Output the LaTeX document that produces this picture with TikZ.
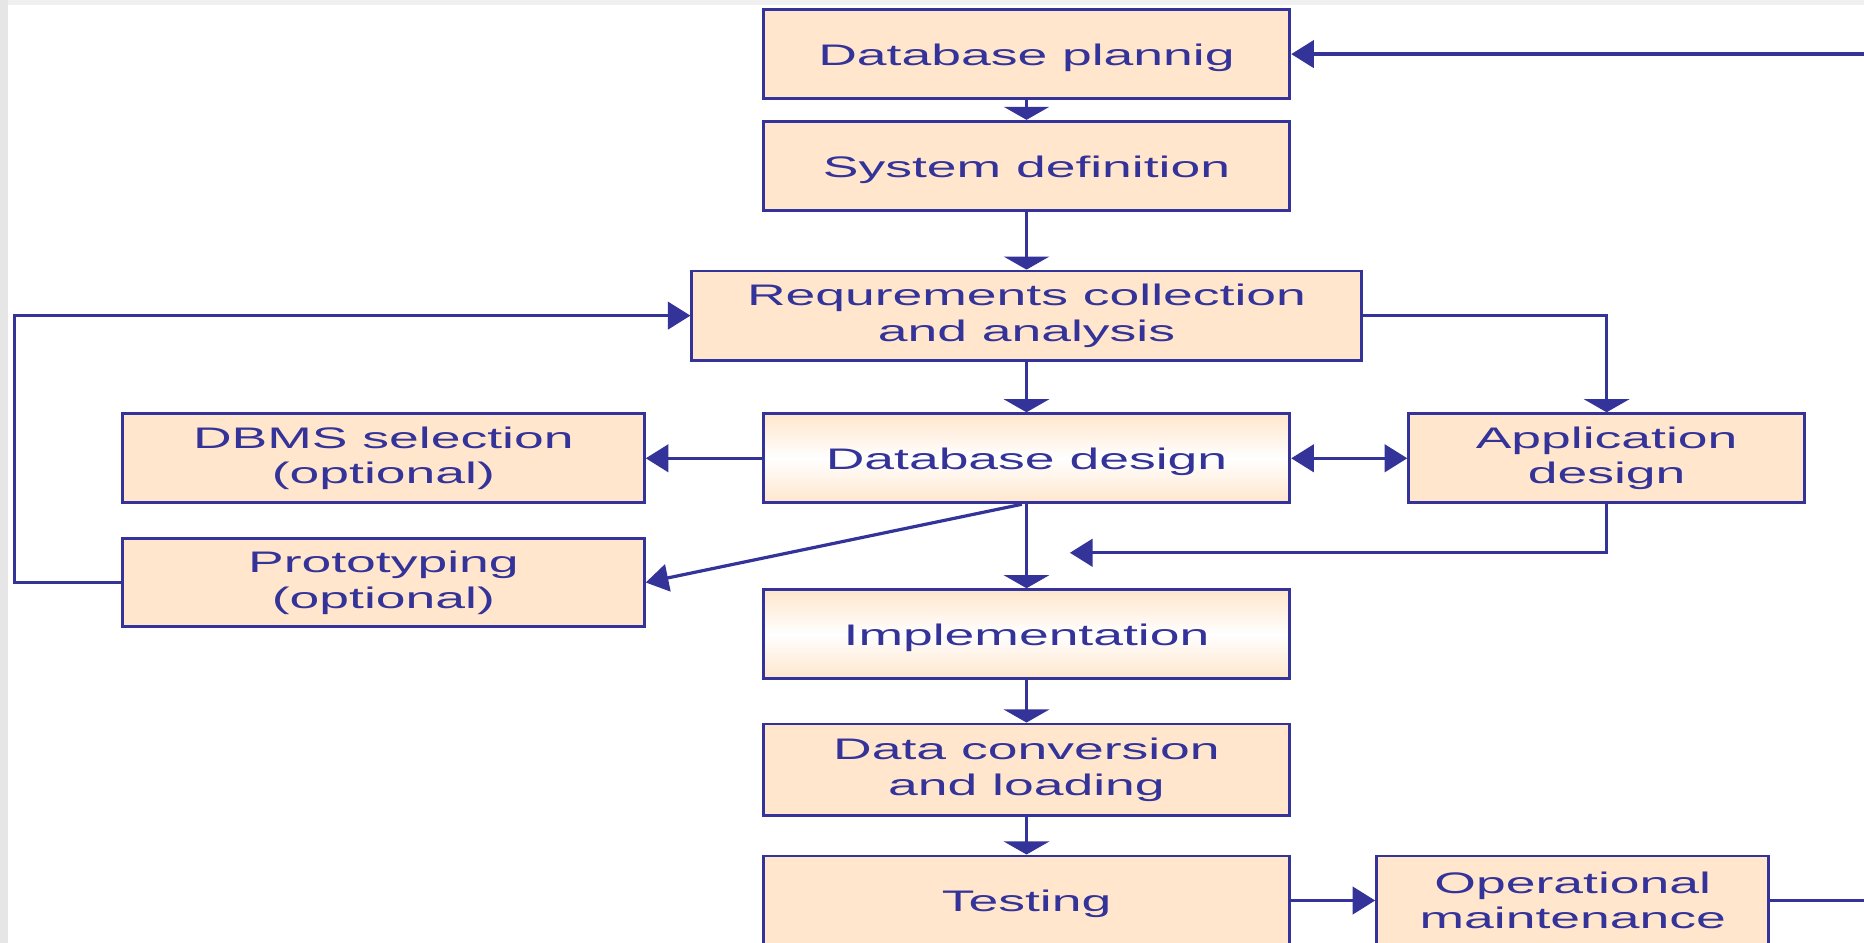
\documentclass[tikz,border=0pt]{standalone}
\usepackage{fontspec}
\setmainfont{Liberation Sans}
\newfontfamily\dfont[FakeStretch=1.8]{Liberation Sans}
\usetikzlibrary{arrows.meta}
\definecolor{lineblue}{RGB}{51,51,153}
\definecolor{peach}{RGB}{255,230,204}
\definecolor{edgegray}{RGB}{230,230,230}
\begin{document}
\begin{tikzpicture}[x=0.5pt,y=-0.5pt,
  box/.style={draw=lineblue, line width=1.2pt, fill=peach, text=lineblue,
    font=\dfont\fontsize{12.5pt}{15pt}\selectfont, align=center,
    inner sep=0pt, minimum width=221.5pt, minimum height=37.5pt,
    execute at begin node={\rule{0pt}{12pt}}},
  gbox/.style={box, top color=peach, bottom color=peach, middle color=white},
  conn/.style={draw=lineblue, line width=1.35pt},
  varr/.style={conn, -{Triangle[width=19pt,length=5.5pt]}},
  harr/.style={conn, -{Triangle[width=11.5pt,length=9.5pt]}},
  darr/.style={conn, {Triangle[width=11.5pt,length=9.5pt]}-{Triangle[width=11.5pt,length=9.5pt]}}]
\useasboundingbox (0,0) rectangle (1568,793);
\clip (0,0) rectangle (1568,793);
\fill[white] (0,0) rectangle (1568,793);
\fill[edgegray!60] (0,0) rectangle (1568,4);
\fill[edgegray] (0,0) rectangle (7,793);

% nodes
\node[box] (dbp) at (863.5,45.5) {Database plannig};
\node[box] (sysdef) at (863.5,139.5) {System definition};
\node[box, minimum width=281.5pt] (req) at (863.5,265.5) {Requrements collection\\and analysis};
\node[box, minimum width=219.5pt] (dbms) at (322.5,385.5) {DBMS selection\\(optional)};
\node[gbox] (dbd) at (863.5,385.5) {Database design};
\node[box, minimum width=166.5pt] (app) at (1351.5,385.5) {Application\\design};
\node[box, minimum width=219.5pt, minimum height=37pt] (proto) at (322.5,490) {Prototyping\\(optional)};
\node[gbox] (impl) at (863.5,533.5) {Implementation};
\node[box, minimum height=38.5pt] (dcl) at (863.5,647.5) {Data conversion\\and loading};
\node[box] (test) at (863.5,757.5) {Testing};
\node[box, minimum width=165pt] (opm) at (1323,757.5) {Operational\\maintenance};

% free ends
\coordinate (rtop) at (1568,45.5);
\coordinate (rbot) at (1568,757.5);
\coordinate (lft) at (12,265.5);
\coordinate (afree) at (900,465);

% connectors
\draw[varr] (dbp.south) -- (sysdef.north);
\draw[varr] (sysdef.south) -- (req.north);
\draw[varr] (req.south) -- (dbd.north);
\draw[varr] (dbd.south) -- (impl.north);
\draw[varr] (impl.south) -- (dcl.north);
\draw[varr] (dcl.south) -- (test.north);
\draw[harr] (rtop) -- (dbp.east);
\draw[varr] (req.east) -| (app.north);
\draw[harr] (dbd.west) -- (dbms.east);
\draw[darr] (dbd.east) -- (app.west);
\draw[harr] ([xshift=-2pt]dbd.south) -- (proto.east);
\draw[harr] (app.south) |- (afree);
\draw[harr] (proto.west) -| (lft) -- (req.west);
\draw[harr] (test.east) -- (opm.west);
\draw[conn] (opm.east) -- (rbot);
\end{tikzpicture}
\end{document}
